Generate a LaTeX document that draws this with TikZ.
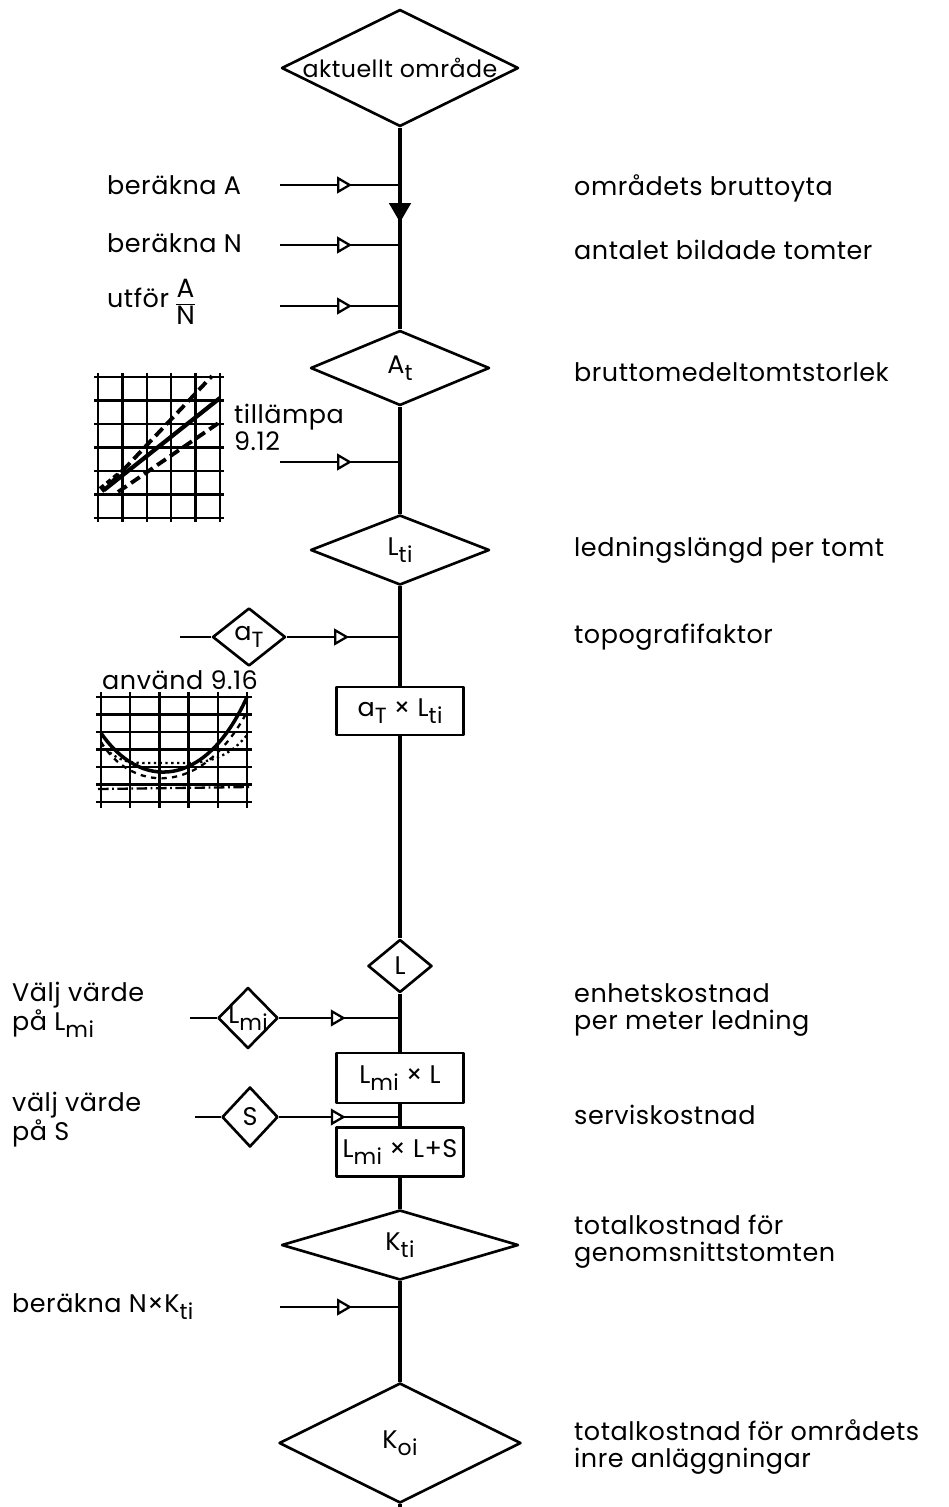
\documentclass[tikz,border=0pt]{standalone}
\usepackage{fontspec}
\setmainfont{Poppins}[LetterSpace=2.0]
\usetikzlibrary{shapes.geometric,arrows.meta,decorations.markings}

% lowered index, as lettered by hand
\newcommand\lowix[1]{\raisebox{-0.5ex}{\fontsize{12.5}{12.5}\selectfont #1}}
% text that must not widen its shape
\newcommand\zw[1]{\makebox[0pt]{#1}}
% stacked quotient in text
\newcommand\quot[2]{\begin{tabular}[c]{@{}c@{}}#1\\[-1pt]\hline #2\end{tabular}}

\begin{document}
\begin{tikzpicture}[x=0.02cm, y=-0.02cm, line join=round,
  every node/.style={font=\fontsize{14.5}{15.5}\selectfont},
  trunk/.style={line width=2.4pt},
  stub/.style={line width=1.5pt},
  feed/.style={line width=1.5pt, postaction=decorate,
    decoration={markings, mark=at position #1 with
      {\arrow{Triangle[fill=white, length=8.5pt, width=9.5pt, line width=1.3pt]}}}},
  feed/.default=0.6,
  rhomb/.style={draw, diamond, line width=1.5pt, inner sep=0pt},
  calcbox/.style={draw, rectangle, line width=1.5pt, inner sep=0pt,
    minimum width=2.54cm, minimum height=0.96cm},
  lefttext/.style={anchor=west, align=left},
  note/.style={anchor=west, align=left},
  gridline/.style={line width=1.3pt}]
\useasboundingbox (0,0) rectangle (949,1507);

% main chain
\node[rhomb, minimum width=4.74cm, minimum height=2.34cm, font=\fontsize{13.5}{14}\selectfont] (area) at (400,68) {\zw{aktuellt område}};
\node[rhomb, minimum width=3.58cm, minimum height=1.5cm] (At) at (400,368) {\zw{A\lowix{t}}};
\node[rhomb, minimum width=3.58cm, minimum height=1.4cm] (Lti) at (400,550) {\zw{L\lowix{ti}}};
\node[calcbox] (box1) at (400,711) {a\lowix{T} × L\lowix{ti}};
\node[rhomb, minimum width=1.28cm, minimum height=1.06cm] (L) at (400,966) {\zw{L}};
\node[calcbox, minimum height=1cm] (box2) at (400,1078) {L\lowix{mi} × L};
\node[calcbox, minimum height=0.98cm] (box3) at (400,1152) {L\lowix{mi} × L+S};
\node[rhomb, minimum width=4.74cm, minimum height=1.4cm] (Kti) at (400,1245) {\zw{K\lowix{ti}}};
\node[rhomb, minimum width=4.84cm, minimum height=2.4cm] (Koi) at (400,1443) {\zw{K\lowix{oi}}};
\coordinate (end) at (400,1507);

\draw[trunk, postaction=decorate, decoration={markings, mark=at position 0.47 with
  {\arrow{Triangle[length=11pt, width=12pt]}}}] (area.south) -- (At.north);
\foreach \a/\b in {At/Lti, Lti/box1, box1/L, L/box2, box2/box3, box3/Kti, Kti/Koi}
  \draw[trunk] (\a.south) -- (\b.north);
\draw[trunk] (Koi.south) -- (end);

% side factors
\node[rhomb, minimum width=1.46cm, minimum height=1.16cm] (aT) at (249,637) {\zw{a\lowix{T}}};
\node[rhomb, minimum width=1.2cm, minimum height=1.22cm] (Lmi) at (248,1018) {\zw{L\lowix{mi}}};
\node[rhomb, minimum width=1.12cm, minimum height=1.2cm] (S) at (250,1117) {\zw{S}};

% inputs into the chain
\foreach \n/\y in {A/185, N/245, AN/306, tab/462, NK/1307} {
  \coordinate (f\n) at (280,\y);
  \coordinate (j\n) at (400,\y);
  \draw[feed] (f\n) -- (j\n);
}
\coordinate (faT) at (180,637);
\coordinate (jaT) at (400,637);
\coordinate (fLmi) at (190,1018);
\coordinate (jLmi) at (400,1018);
\coordinate (fS) at (195,1117);
\coordinate (jS) at (400,1117);
\draw[stub] (faT) -- (aT.west);
\draw[feed=0.55] (aT.east) -- (jaT);
\draw[stub] (fLmi) -- (Lmi.west);
\draw[feed=0.55] (Lmi.east) -- (jLmi);
\draw[stub] (fS) -- (S.west);
\draw[feed=0.55] (S.east) -- (jS);

% left texts
\node[lefttext] (tA) at (101,185) {beräkna A};
\node[lefttext] (tN) at (101,243) {beräkna N};
\node[lefttext] (tAN) at (101,305) {utför \raisebox{-0.3ex}{\fontsize{15}{16}\selectfont\quot{A}{N}}};
\node[lefttext] (ttab) at (228,427) {tillämpa\\9.12};
\node[lefttext] (tcurve) at (96,680) {använd 9.16};
\node[lefttext] (tLmi) at (6,1010) {Välj värde\\på L\lowix{mi}};
\node[lefttext] (tS) at (6,1120) {välj värde\\på S};
\node[lefttext] (tNK) at (6,1307) {beräkna N×K\lowix{ti}};

% right texts
\node[note] (nA) at (568,188) {områdets bruttoyta};
\node[note] (nN) at (568,250) {antalet bildade tomter};
\node[note] (nAt) at (568,372) {bruttomedeltomtstorlek};
\node[note] (nLti) at (568,550) {ledningslängd per tomt};
\node[note] (naT) at (568,637) {topografifaktor};
\node[note] (nLmi) at (568,1010) {enhetskostnad\\per meter ledning};
\node[note] (nS) at (568,1115) {serviskostnad};
\node[note] (nKti) at (568,1242) {totalkostnad för\\genomsnittstomten};
\node[note] (nKoi) at (568,1447) {totalkostnad för områdets\\inre anläggningar};

% diagram 9.12
\foreach \i in {0,...,5}
  \draw[gridline] ({98+24.4*\i},373) -- ({98+24.4*\i},522);
\foreach \j in {0,...,6}
  \draw[gridline] (94,{377+23.5*\j}) -- (224,{377+23.5*\j});
\draw[line width=2.4pt] (104,490) -- (220,398);
\draw[line width=2.2pt, dash pattern=on 6pt off 3pt] (112,482) -- (212,376);
\draw[line width=2.2pt, dash pattern=on 6pt off 3pt] (118,492) -- (220,422);
\draw[line width=4pt, dash pattern=on 3pt off 2pt] (101,490) -- (128,468);

% diagram 9.16
\foreach \i in {0,...,5}
  \draw[gridline] ({101+29.2*\i},692) -- ({101+29.2*\i},808);
\foreach \j in {0,...,6}
  \draw[gridline] (96,{697+17.5*\j}) -- (252,{697+17.5*\j});
\draw[line width=2pt] (101,733) .. controls (140,790) and (205,790) .. (247,697);
\draw[line width=1.3pt, dotted] (101,745) .. controls (120,763) and (130,763) .. (150,763)
  -- (195,763) .. controls (220,760) and (235,750) .. (247,735);
\draw[line width=1.3pt, dashed] (101,742) .. controls (130,790) and (200,800) .. (247,712);
\draw[line width=1.3pt, dash pattern=on 6pt off 2pt on 1pt off 2pt] (98,789) -- (250,787);
\end{tikzpicture}
\end{document}
